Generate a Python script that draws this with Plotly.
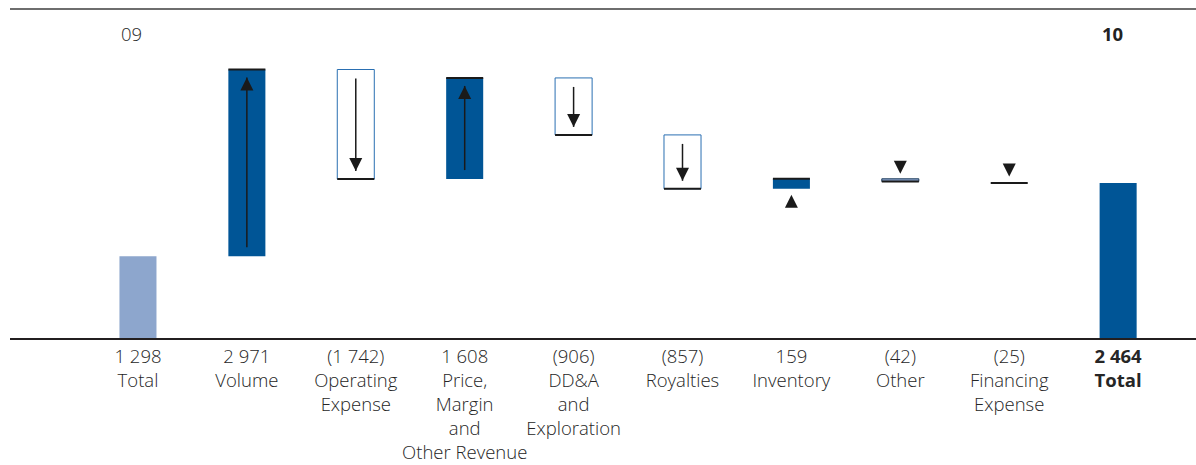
import plotly.graph_objects as go

# ---------------- data ----------------
categories = ["Total", "Volume", "Operating<br>Expense",
              "Price,<br>Margin<br>and<br>Other Revenue",
              "DD&A<br>and<br>Exploration", "Royalties", "Inventory",
              "Other", "Financing<br>Expense", "Total"]
values = [1298, 2971, -1742, 1608, -906, -857, 159, -42, -25, 2464]
value_labels = ["1 298", "2 971", "(1 742)", "1 608", "(906)", "(857)",
                "159", "(42)", "(25)", "2 464"]
measures = ["total", "relative", "relative", "relative", "relative",
            "relative", "relative", "relative", "relative", "total"]
year_labels = ["09", "10"]

# ---------------- styling constants ----------------
DARK = "#005596"
LIGHT = "#8DA6CD"
OUTLINE = "#2A6FB2"
TEXT = "#262626"
BAR_W = 0.34
Y_MAX = 5231
PLOT_H_PX = 329
U = Y_MAX / PLOT_H_PX  # data units per pixel
FONT = "Open Sans"
FS = 18.5

# ---------------- waterfall geometry ----------------
n = len(values)
xs = list(range(n))
bases, heights, starts, ends = [], [], [], []
run = 0
for v, m in zip(values, measures):
    if m == "total":
        s, e = 0, v
        run = v
    else:
        s, e = run, run + v
        run = e
    starts.append(s)
    ends.append(e)
    bases.append(min(s, e))
    heights.append(abs(e - s))

fills, lcolors, lwidths = [], [], []
for i, (v, m) in enumerate(zip(values, measures)):
    if m == "total":
        fills.append(LIGHT if i == 0 else DARK)
        lcolors.append(DARK)
        lwidths.append(0)
    elif v > 0:
        fills.append(DARK)
        lcolors.append(DARK)
        lwidths.append(0)
    else:
        px = abs(v) / U
        if px < 2:
            fills.append("rgba(0,0,0,0)")
            lcolors.append("rgba(0,0,0,0)")
            lwidths.append(0)
        elif px < 6:
            fills.append(LIGHT)
            lcolors.append("#1d3b5c")
            lwidths.append(1)
        else:
            fills.append("white")
            lcolors.append(OUTLINE)
            lwidths.append(1)

fig = go.Figure()
fig.add_trace(go.Bar(
    x=xs, y=heights, base=bases, width=BAR_W,
    marker=dict(color=fills, line=dict(color=lcolors, width=lwidths)),
    hoverinfo="skip", showlegend=False,
))

# black end lines (top of increases, bottom of decreases)
seg_x, seg_y = [], []
for i, m in enumerate(measures):
    if m == "relative":
        seg_x += [i - BAR_W / 2, i + BAR_W / 2, None]
        seg_y += [ends[i], ends[i], None]
fig.add_trace(go.Scatter(x=seg_x, y=seg_y, mode="lines",
                         line=dict(color="#1a1a1a", width=2),
                         hoverinfo="skip", showlegend=False))

# arrows
shaft_x, shaft_y = [], []
head_up_x, head_up_y, head_dn_x, head_dn_y = [], [], [], []
for i, m in enumerate(measures):
    if m != "relative":
        continue
    s, e = starts[i], ends[i]
    px = abs(e - s) / U
    up = e > s
    if px > 20:
        d = 1 if up else -1
        tail = s + d * 9 * U
        tip = e - d * 8 * U
        shaft_x += [i, i, None]
        shaft_y += [tail, tip, None]
        (head_up_x if up else head_dn_x).append(i)
        (head_up_y if up else head_dn_y).append(tip)
    else:
        if up:
            head_up_x.append(i)
            head_up_y.append(bases[i] - 6 * U)
        else:
            head_dn_x.append(i)
            head_dn_y.append(max(s, e) + 5 * U)

fig.add_trace(go.Scatter(x=shaft_x, y=shaft_y, mode="lines",
                         line=dict(color="#1a1a1a", width=1.5),
                         hoverinfo="skip", showlegend=False))
fig.add_trace(go.Scatter(x=head_up_x, y=head_up_y, mode="markers",
                         marker=dict(symbol="arrow-up", size=13, color="#1a1a1a",
                                     line=dict(width=0)),
                         hoverinfo="skip", showlegend=False))
fig.add_trace(go.Scatter(x=head_dn_x, y=head_dn_y, mode="markers",
                         marker=dict(symbol="arrow-down", size=13, color="#1a1a1a",
                                     line=dict(width=0)),
                         hoverinfo="skip", showlegend=False))

# tick labels
ticktext = []
for i in range(n):
    if i == n - 1:
        parts = [value_labels[i]] + categories[i].split("<br>")
        ticktext.append("<br>".join("<b>%s</b>" % p for p in parts))
    else:
        ticktext.append(value_labels[i] + "<br>" + categories[i])

# year labels
fig.add_annotation(x=0 - BAR_W / 2, y=0.925, xref="x", yref="paper",
                   text=year_labels[0], showarrow=False, xanchor="left",
                   yanchor="middle", font=dict(family=FONT, size=FS, color=TEXT, weight=300))
fig.add_annotation(x=n - 1 - BAR_W / 2, y=0.925, xref="x", yref="paper",
                   text="<b>%s</b>" % year_labels[1], showarrow=False, xanchor="left",
                   yanchor="middle", font=dict(family=FONT, size=FS, color="#222222"))

fig.add_shape(type="line", xref="paper", yref="paper", x0=0, x1=1, y0=1, y1=1,
              line=dict(color="#6e6e6e", width=2))

fig.update_layout(
    width=1196, height=465,
    margin=dict(l=10, r=0, t=9, b=127),
    paper_bgcolor="white", plot_bgcolor="white",
    bargap=0,
    xaxis=dict(range=[-1.175, 9.715], tickvals=xs, ticktext=ticktext,
               showline=True, linecolor="#231f20", linewidth=1.5,
               ticks="", showgrid=False, zeroline=False, tickangle=0,
               automargin=False,
               tickfont=dict(family=FONT, size=FS, color=TEXT, weight=300),
               ticklabelstandoff=1, fixedrange=True),
    yaxis=dict(range=[0, Y_MAX], showticklabels=False, showgrid=False,
               zeroline=False, showline=False, fixedrange=True, automargin=False),
)

fig.write_html("out.html",
               config={"displayModeBar": False, "staticPlot": True},
               post_script="document.body.style.margin='0';"
                           "document.body.style.overflow='hidden';")
